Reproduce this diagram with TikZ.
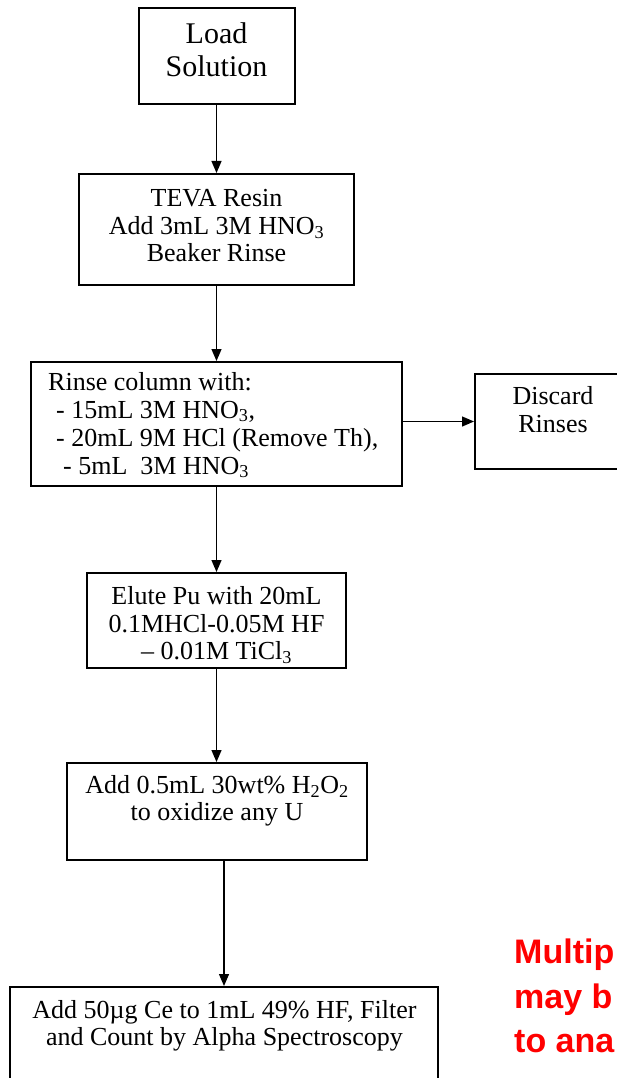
\documentclass[tikz,border=0pt]{standalone}
\usepackage{fontspec}
\setmainfont{Liberation Serif}
\newfontfamily\redfont{Liberation Sans}
\usetikzlibrary{arrows.meta}
\tikzset{
  box/.style={draw=black, line width=2pt, inner sep=0pt},
  txt/.style={inner sep=0pt, align=center, font=\fontsize{26}{27.5}\selectfont},
  flow/.style={draw=black, line width=1.3pt, -{Triangle[length=12pt,width=10pt]}},
  redtxt/.style={inner sep=0pt, anchor=base west, text=red, font=\redfont\bfseries\fontsize{34}{44.5}\selectfont}
}
\begin{document}
\begin{tikzpicture}[x=1pt,y=-1pt]
\useasboundingbox (0,0) rectangle (617,1078);
\clip (0,0) rectangle (617,1078);
\fill[white] (0,0) rectangle (617,1078);
% boxes
\node[box, minimum width=156pt, minimum height=96pt] (load) at (216.5,56) {};
\node[box, minimum width=275pt, minimum height=111pt] (teva) at (216.5,229.5) {};
\node[box, minimum width=371pt, minimum height=124pt] (rinse) at (216.5,424) {};
\node[box, minimum width=170pt, minimum height=95pt] (discard) at (560,421.5) {};
\node[box, minimum width=259pt, minimum height=95pt] (elute) at (216.5,620.5) {};
\node[box, minimum width=300pt, minimum height=97pt] (perox) at (216.5,811.5) {};
\node[box, minimum width=428pt, minimum height=113pt] (final) at (224,1043.5) {};
% texts
\node[txt, font=\fontsize{30}{33}\selectfont] (loadt) at (216.5,50) {Load\\Solution};
\node[txt] (tevat) at (216.5,226) {TEVA Resin\\Add 3mL 3M HNO\textsubscript{3}\\Beaker Rinse};
\node[txt, align=left, anchor=west, font=\fontsize{26}{28}\selectfont] (rinset) at (48,425)
  {Rinse column with:\\\hspace{8pt}- 15mL 3M HNO\textsubscript{3},\\\hspace{8pt}- 20mL 9M HCl (Remove Th),\\\hspace{15pt}- 5mL\ \ 3M HNO\textsubscript{3}};
\node[txt, font=\fontsize{26}{28}\selectfont] (discardt) at (553,410) {Discard\\Rinses};
\node[txt] (elutet) at (216.5,625) {Elute Pu with 20mL\\0.1MHCl-0.05M HF\\ -- 0.01M TiCl\textsubscript{3}};
\node[txt] (peroxt) at (217,801) {Add 0.5mL 30wt\% H\textsubscript{2}O\textsubscript{2}\\to oxidize any U};
\node[txt] (finalt) at (224.5,1026) {Add 50µg Ce to 1mL 49\% HF, Filter\\and Count by Alpha Spectroscopy};
% red note
\node[redtxt] (red1) at (514,963) {Multip};
\node[redtxt] (red2) at (514,1008) {may b};
\node[redtxt] (red3) at (514,1052) {to ana};
% connectors
\draw[flow] (load.south) -- (teva.north);
\draw[flow] (teva.south) -- (rinse.north);
\draw[flow] (rinse.east |- discard.west) -- (discard.west);
\draw[flow] (rinse.south) -- (elute.north);
\draw[flow] (elute.south) -- (perox.north);
\draw[flow] (final.north |- perox.south) -- (final.north);
\end{tikzpicture}
\end{document}
